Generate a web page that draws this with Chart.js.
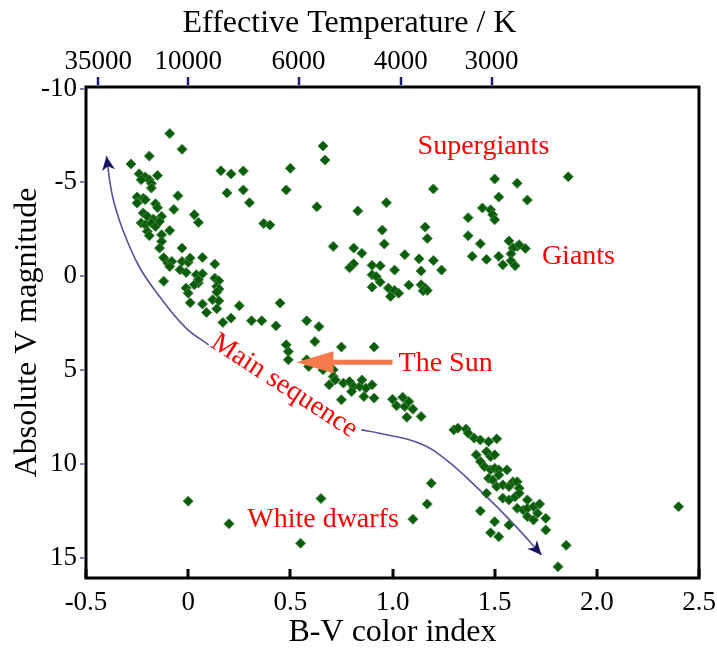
<!DOCTYPE html>
<html>
<head>
<meta charset="utf-8">
<title>HR diagram</title>
<script src="https://cdn.jsdelivr.net/npm/chart.js@4.4.1/dist/chart.umd.min.js"></script>
<style>
  html, body { margin: 0; padding: 0; background: #fff; }
  #wrap { width: 717px; height: 649px; }
</style>
</head>
<body>
<div id="wrap"><canvas id="hr" width="717" height="649"></canvas></div>
<script>
// star positions: B-V colour index and absolute V magnitude
const starBV = [
  -0.09, -0.03, -0.19, -0.28, -0.24, -0.21, -0.19, -0.18, -0.18, -0.15,
  -0.23, -0.05, -0.25, -0.22, -0.21, -0.25, -0.16, -0.15, -0.07, -0.22,
  -0.20, -0.17, -0.13, -0.23, -0.21, -0.18, -0.16, -0.14, -0.20, -0.19,
  -0.13, -0.09, -0.13, -0.14, 0.03, 0.05, -0.03, -0.12, -0.10, -0.08,
  -0.09, -0.03, 0.00, 0.01, -0.04, -0.01, 0.07, 0.13, -0.12, 0.04,
  0.07, 0.05, 0.03, -0.01, 0.00, 0.05, 0.13, 0.15, 0.14, 0.15,
  0.14, 0.12, 0.15, 0.14, 0.01, 0.07, 0.09, 0.16, 0.21, 0.27,
  0.19, 0.27, 0.30, 0.37, 0.40, 0.50, 0.48, 0.63, 0.66, 0.67,
  0.71, 0.83, 0.97, 0.95, 0.96, 0.81, 0.85, 0.81, 0.79, 0.90,
  0.94, 0.90, 0.92, 0.94, 0.90, 1.01, 0.98, 0.99, 1.01, 1.03,
  1.20, 1.06, 1.13, 1.14, 1.16, 1.17, 1.20, 1.24, 1.08, 1.14,
  1.16, 1.15, 1.17, 1.50, 1.61, 1.86, 1.52, 1.66, 1.37, 1.44,
  1.48, 1.49, 1.50, 1.37, 1.43, 1.39, 1.46, 1.52, 1.54, 1.57,
  1.61, 1.62, 1.65, 1.59, 1.58, 1.58, 1.60, 0.17, 0.21, 0.25,
  0.31, 0.36, 0.43, 0.45, 0.58, 0.64, 0.62, 0.75, 0.91, 0.48,
  0.49, 0.49, 0.58, 0.59, 0.66, 0.71, 0.71, 0.72, 0.69, 0.76,
  0.79, 0.81, 0.80, 0.84, 0.85, 0.87, 0.90, 0.86, 0.91, 0.75,
  1.00, 1.02, 1.05, 1.06, 1.08, 1.10, 1.07, 1.14, 1.30, 1.32,
  1.36, 1.37, 1.40, 1.43, 1.47, 1.51, 1.41, 1.43, 1.46, 1.48,
  1.50, 1.45, 1.48, 1.50, 1.52, 1.56, 1.47, 1.49, 1.52, 1.51,
  1.54, 1.57, 1.59, 1.61, 1.62, 1.54, 1.57, 1.60, 1.62, 1.66,
  1.61, 1.64, 1.66, 1.69, 1.72, 1.66, 1.69, 1.71, 1.75, 1.75,
  1.19, 1.17, 1.10, 1.46, 1.43, 1.50, 1.48, 1.52, 1.57, 1.85,
  1.81, 2.40, 0.00, 0.20, 0.65, 0.55
];
const starMag = [
  -7.60, -6.76, -6.40, -5.98, -5.46, -5.29, -5.14, -4.95, -4.70, -5.37,
  -5.14, -4.29, -4.22, -4.15, -4.08, -3.90, -3.86, -3.65, -3.56, -3.37,
  -3.19, -3.05, -3.19, -2.84, -2.75, -2.84, -2.65, -2.92, -2.39, -2.16,
  -2.21, -2.44, -1.86, -1.50, -3.28, -2.87, -1.50, -0.99, -0.70, -0.79,
  -0.52, -0.79, -0.74, -0.97, -0.35, -0.20, -1.00, -0.65, 0.26, -0.08,
  -0.13, 0.36, 0.45, 0.63, 0.90, 0.19, 0.10, 0.24, 0.54, 0.68,
  0.84, 1.25, 1.31, 1.73, 1.41, 1.48, 1.93, -5.62, -5.45, -5.61,
  -4.44, -4.60, -3.92, -2.81, -2.73, -5.75, -4.60, -3.70, -6.94, -6.19,
  -1.59, -3.48, -3.92, -2.46, -1.72, -1.50, -1.22, -0.67, -0.45, -0.58,
  -0.56, -0.08, 0.01, 0.31, 0.58, -0.33, 0.63, 1.08, 0.76, 0.90,
  -4.65, -1.15, -0.93, -0.28, -2.62, -2.01, -0.84, -0.33, 0.47, 0.45,
  0.63, 0.77, 0.76, -5.18, -4.95, -5.30, -4.22, -4.06, -3.12, -3.64,
  -3.54, -3.28, -3.01, -2.16, -1.73, -1.06, -0.90, -1.06, -0.61, -1.88,
  -1.59, -1.68, -1.48, -1.50, -1.20, -0.83, -0.56, 2.46, 2.23, 1.57,
  2.37, 2.37, 2.64, 1.43, 2.37, 2.68, 3.48, 3.77, 3.77, 3.65,
  4.01, 4.45, 4.45, 4.81, 4.98, 4.98, 5.34, 5.52, 5.78, 5.69,
  5.61, 5.87, 6.14, 5.87, 5.52, 5.96, 5.78, 6.41, 6.49, 6.58,
  6.55, 6.90, 6.44, 6.94, 6.67, 7.08, 7.51, 7.47, 8.18, 8.09,
  8.14, 8.36, 8.62, 8.72, 8.81, 8.66, 9.51, 9.87, 9.34, 9.61,
  9.51, 10.14, 10.31, 10.22, 10.31, 10.31, 10.76, 10.85, 10.58, 11.20,
  11.11, 11.20, 10.94, 10.94, 11.29, 11.82, 11.91, 11.74, 11.56, 11.91,
  12.36, 12.45, 12.36, 12.27, 12.13, 12.80, 12.98, 12.62, 12.89, 13.51,
  11.02, 12.13, 12.94, 11.56, 12.50, 13.07, 13.66, 13.87, 13.25, 14.33,
  15.47, 12.27, 11.98, 13.18, 11.84, 14.22
];

// axes
const bvTicks = [-0.5, 0, 0.5, 1.0, 1.5, 2.0, 2.5];
const bvTickLabels = ['-0.5', '0', '0.5', '1.0', '1.5', '2.0', '2.5'];
const magTicks = [-10, -5, 0, 5, 10, 15];
const magTickLabels = ['-10', '-5', '0', '5', '10', '15'];
const tempBV = [-0.44, 0, 0.54, 1.04, 1.485];
const tempLabels = ['35000', '10000', '6000', '4000', '3000'];

// the hand-drawn main sequence guide, split where the label sits on it
const seqUpperBV = [-0.40, -0.37, -0.32, -0.24, -0.14, -0.01, 0.10];
const seqUpperMag = [-6.39, -4.25, -2.48, -0.52, 1.08, 2.76, 3.65];
const seqLowerBV = [0.847, 0.936, 1.132, 1.263, 1.426, 1.59, 1.729];
const seqLowerMag = [8.18, 8.36, 8.89, 9.78, 11.38, 13.16, 14.84];

// arrow pointing at the Sun
const sunArrowBV = [1.0, 0.53];
const sunArrowMag = [4.58, 4.58];

const SERIF = "'Liberation Serif', 'Times New Roman', serif";

const notes = [
  { text: 'Supergiants', bv: 1.445, mag: -6.92, angle: 0 },
  { text: 'Giants', bv: 1.91, mag: -1.02, angle: 0 },
  { text: 'The Sun', bv: 1.26, mag: 4.63, angle: 0 },
  { text: 'White dwarfs', bv: 0.66, mag: 12.98, angle: 0 },
  { text: 'Main sequence', bv: 0.47, mag: 5.84, angle: 33 }
];

function pairs(xs, ys) {
  return xs.map((v, i) => ({ x: v, y: ys[i] }));
}

function arrowHead(ctx, tipX, tipY, fromX, fromY, len, half, notch, color) {
  const a = Math.atan2(tipY - fromY, tipX - fromX);
  ctx.save();
  ctx.translate(tipX, tipY);
  ctx.rotate(a);
  ctx.fillStyle = color;
  ctx.beginPath();
  ctx.moveTo(0, 0);
  ctx.lineTo(-len, -half);
  ctx.lineTo(-len + notch, 0);
  ctx.lineTo(-len, half);
  ctx.closePath();
  ctx.fill();
  ctx.restore();
}

// the frame is drawn by hand, so the axes should not reserve room for edge labels
function fixedBox(size) {
  return s => {
    if (s.isHorizontal()) s.height = size; else s.width = size;
    s.paddingLeft = 0;
    s.paddingRight = 0;
    s.paddingTop = 0;
    s.paddingBottom = 0;
  };
}

const decorations = {
  id: 'decorations',
  afterDatasetsDraw(chart) {
    const { ctx, chartArea: a, scales: { x, y } } = chart;
    ctx.save();

    const px = (bv) => x.getPixelForValue(bv);
    const py = (m) => y.getPixelForValue(m);

    // guide arrowheads
    arrowHead(ctx, px(seqUpperBV[0]), py(seqUpperMag[0]), px(seqUpperBV[1]), py(seqUpperMag[1]), 14, 6.5, 4, '#14145e');
    const n = seqLowerBV.length;
    arrowHead(ctx, px(seqLowerBV[n - 1]), py(seqLowerMag[n - 1]), px(seqLowerBV[n - 2]), py(seqLowerMag[n - 2]), 14, 6.5, 4, '#14145e');

    // the Sun arrow
    const sx0 = px(sunArrowBV[0]), sx1 = px(sunArrowBV[1]);
    const sy0 = py(sunArrowMag[0]), sy1 = py(sunArrowMag[1]);
    ctx.strokeStyle = '#f67a4e';
    ctx.lineWidth = 5;
    ctx.beginPath();
    ctx.moveTo(sx0, sy0);
    ctx.lineTo(sx1 + 30, sy1);
    ctx.stroke();
    arrowHead(ctx, sx1, sy1, sx0, sy0, 37, 11, 0, '#f67a4e');

    // region labels
    ctx.fillStyle = '#ff0000';
    ctx.font = '28px ' + SERIF;
    ctx.textAlign = 'center';
    ctx.textBaseline = 'middle';
    notes.forEach(nt => {
      ctx.save();
      ctx.translate(px(nt.bv), py(nt.mag));
      ctx.rotate(nt.angle * Math.PI / 180);
      ctx.fillText(nt.text, 0, 0);
      ctx.restore();
    });

    // tick marks: inner on the bottom, outer on the top and left
    ctx.strokeStyle = '#000';
    ctx.lineWidth = 3;
    bvTicks.forEach(v => {
      const tx = Math.round(px(v));
      ctx.beginPath();
      ctx.moveTo(tx, a.bottom);
      ctx.lineTo(tx, a.bottom - 9);
      ctx.stroke();
    });
    ctx.strokeStyle = '#1c1c78';
    ctx.lineWidth = 2.5;
    tempBV.forEach(v => {
      const tx = Math.round(px(v));
      ctx.beginPath();
      ctx.moveTo(tx, a.top - 2);
      ctx.lineTo(tx, a.top - 10);
      ctx.stroke();
    });
    ctx.strokeStyle = '#8080b0';
    ctx.lineWidth = 2;
    magTicks.forEach(v => {
      const ty = Math.round(py(v));
      ctx.beginPath();
      ctx.moveTo(a.left - 6, ty);
      ctx.lineTo(a.left - 2, ty);
      ctx.stroke();
    });

    // frame
    ctx.strokeStyle = '#000';
    ctx.lineWidth = 3;
    ctx.strokeRect(a.left, a.top, a.right - a.left, a.bottom - a.top);
    ctx.restore();
  }
};

const tickFont = { family: SERIF, size: 27 };

new Chart(document.getElementById('hr'), {
  type: 'scatter',
  data: {
    datasets: [
      {
        label: 'Stars',
        data: pairs(starBV, starMag),
        pointStyle: 'rectRot',
        pointRadius: 5,
        backgroundColor: '#0b5d0b',
        borderColor: '#3f843f',
        borderWidth: 1
      },
      {
        type: 'line',
        label: 'Main sequence (upper)',
        data: pairs(seqUpperBV, seqUpperMag),
        borderColor: 'rgba(40, 40, 130, 0.8)',
        borderWidth: 1.6,
        pointRadius: 0,
        tension: 0.4,
        fill: false
      },
      {
        type: 'line',
        label: 'Main sequence (lower)',
        data: pairs(seqLowerBV, seqLowerMag),
        borderColor: 'rgba(40, 40, 130, 0.8)',
        borderWidth: 1.6,
        pointRadius: 0,
        tension: 0.4,
        fill: false
      }
    ]
  },
  options: {
    responsive: false,
    animation: false,
    devicePixelRatio: 1,
    layout: { padding: { left: 0, right: 18, top: 0, bottom: 0 } },
    plugins: {
      legend: { display: false },
      tooltip: { enabled: false },
      title: {
        display: true,
        text: 'Effective Temperature / K',
        color: '#000',
        font: { family: SERIF, size: 32, weight: 'normal', lineHeight: 1 },
        padding: { top: 8, bottom: 0 }
      }
    },
    scales: {
      x: {
        type: 'linear',
        position: 'bottom',
        min: -0.5,
        max: 2.5,
        grid: { display: false, drawTicks: false },
        border: { display: false },
        afterBuildTicks: s => { s.ticks = bvTicks.map(v => ({ value: v })); },
        afterFit: fixedBox(71),
        ticks: {
          padding: 9,
          color: '#000',
          font: tickFont,
          autoSkip: false,
          maxRotation: 0,
          callback: (v, i) => bvTickLabels[i]
        },
        title: {
          display: true,
          text: 'B-V color index',
          color: '#000',
          font: { family: SERIF, size: 32, lineHeight: 1 },
          padding: { top: 0, bottom: 0 }
        }
      },
      x2: {
        type: 'linear',
        position: 'top',
        min: -0.5,
        max: 2.5,
        grid: { display: false, drawTicks: false },
        border: { display: false },
        afterBuildTicks: s => { s.ticks = tempBV.map(v => ({ value: v })); },
        afterFit: fixedBox(47),
        ticks: {
          padding: 9,
          color: '#000',
          font: tickFont,
          autoSkip: false,
          maxRotation: 0,
          callback: (v, i) => tempLabels[i]
        }
      },
      y: {
        type: 'linear',
        position: 'left',
        reverse: true,
        min: -10.08,
        max: 16.07,
        grid: { display: false, drawTicks: false },
        border: { display: false },
        afterBuildTicks: s => { s.ticks = magTicks.map(v => ({ value: v })); },
        afterFit: fixedBox(86),
        ticks: {
          padding: 9,
          color: '#000',
          font: tickFont,
          autoSkip: false,
          callback: (v, i) => magTickLabels[i]
        },
        title: {
          display: true,
          text: 'Absolute V magnitude',
          color: '#000',
          font: { family: SERIF, size: 32, lineHeight: 1 },
          padding: { top: 12, bottom: 0 }
        }
      }
    }
  },
  plugins: [decorations]
});
</script>
</body>
</html>
